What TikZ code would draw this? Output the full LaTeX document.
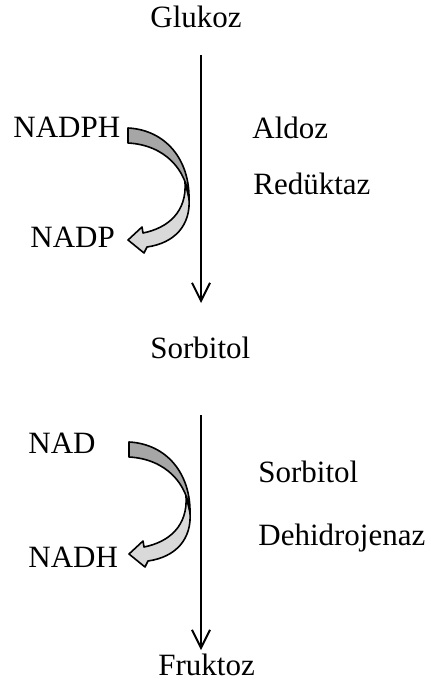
\documentclass[tikz,border=0pt]{standalone}
\usepackage{fontspec}
\setmainfont{Liberation Serif}
\usetikzlibrary{arrows.meta}
\definecolor{darkband}{HTML}{A6A6A6}
\definecolor{lightband}{HTML}{D9D9D9}
\tikzset{
  lbl/.style={anchor=base west, inner sep=0pt, font=\fontsize{15.5}{18}\selectfont},
  mainarrow/.style={line width=1pt, -{Straight Barb[length=9pt,width=9pt,line width=1pt]}},
  bandout/.style={draw=black, line width=0.8pt, line join=round},
  pics/curvedarrow/.style={code={
    \path[bandout, fill=lightband]
      (185,182) .. controls (187,212) and (168,228) .. (143,233)
      -- (142,227) -- (128,240) -- (144,253) -- (147,247)
      .. controls (175,243) and (191,225) .. (189,198) -- cycle;
    \path[bandout, fill=darkband]
      (128,128) .. controls (166,130) and (190,160) .. (189,200)
      .. controls (187,170) and (165,145) .. (128,143) -- cycle;
  }}
}
\begin{document}
\begin{tikzpicture}[x=0.5pt, y=-0.5pt]
\useasboundingbox (0,0) rectangle (431,684);
\node[lbl] (glukoz) at (150,28) {Glukoz};
\node[lbl] (nadph) at (13,138) {NADPH};
\node[lbl] (nadp) at (30,247) {NADP};
\node[lbl] (aldoz) at (252,139) {Aldoz};
\node[lbl] (reduktaz) at (253,195) {Redüktaz};
\node[lbl] (sorbitol) at (150,358) {Sorbitol};
\node[lbl] (nad) at (28,453) {NAD};
\node[lbl] (nadh) at (28,567) {NADH};
\node[lbl] (sorbitol2) at (258,482) {Sorbitol};
\node[lbl] (dehidro) at (258,545) {Dehidrojenaz};
\node[lbl] (fruktoz) at (158,675) {Fruktoz};
\coordinate (a1s) at (201,55);
\coordinate (a1e) at (201,303);
\coordinate (a2s) at (201,415);
\coordinate (a2e) at (201,650);
\draw[mainarrow] (a1s) -- (a1e);
\draw[mainarrow] (a2s) -- (a2e);
\pic at (0,0) {curvedarrow};
\pic at (1,314) {curvedarrow};
\end{tikzpicture}
\end{document}
